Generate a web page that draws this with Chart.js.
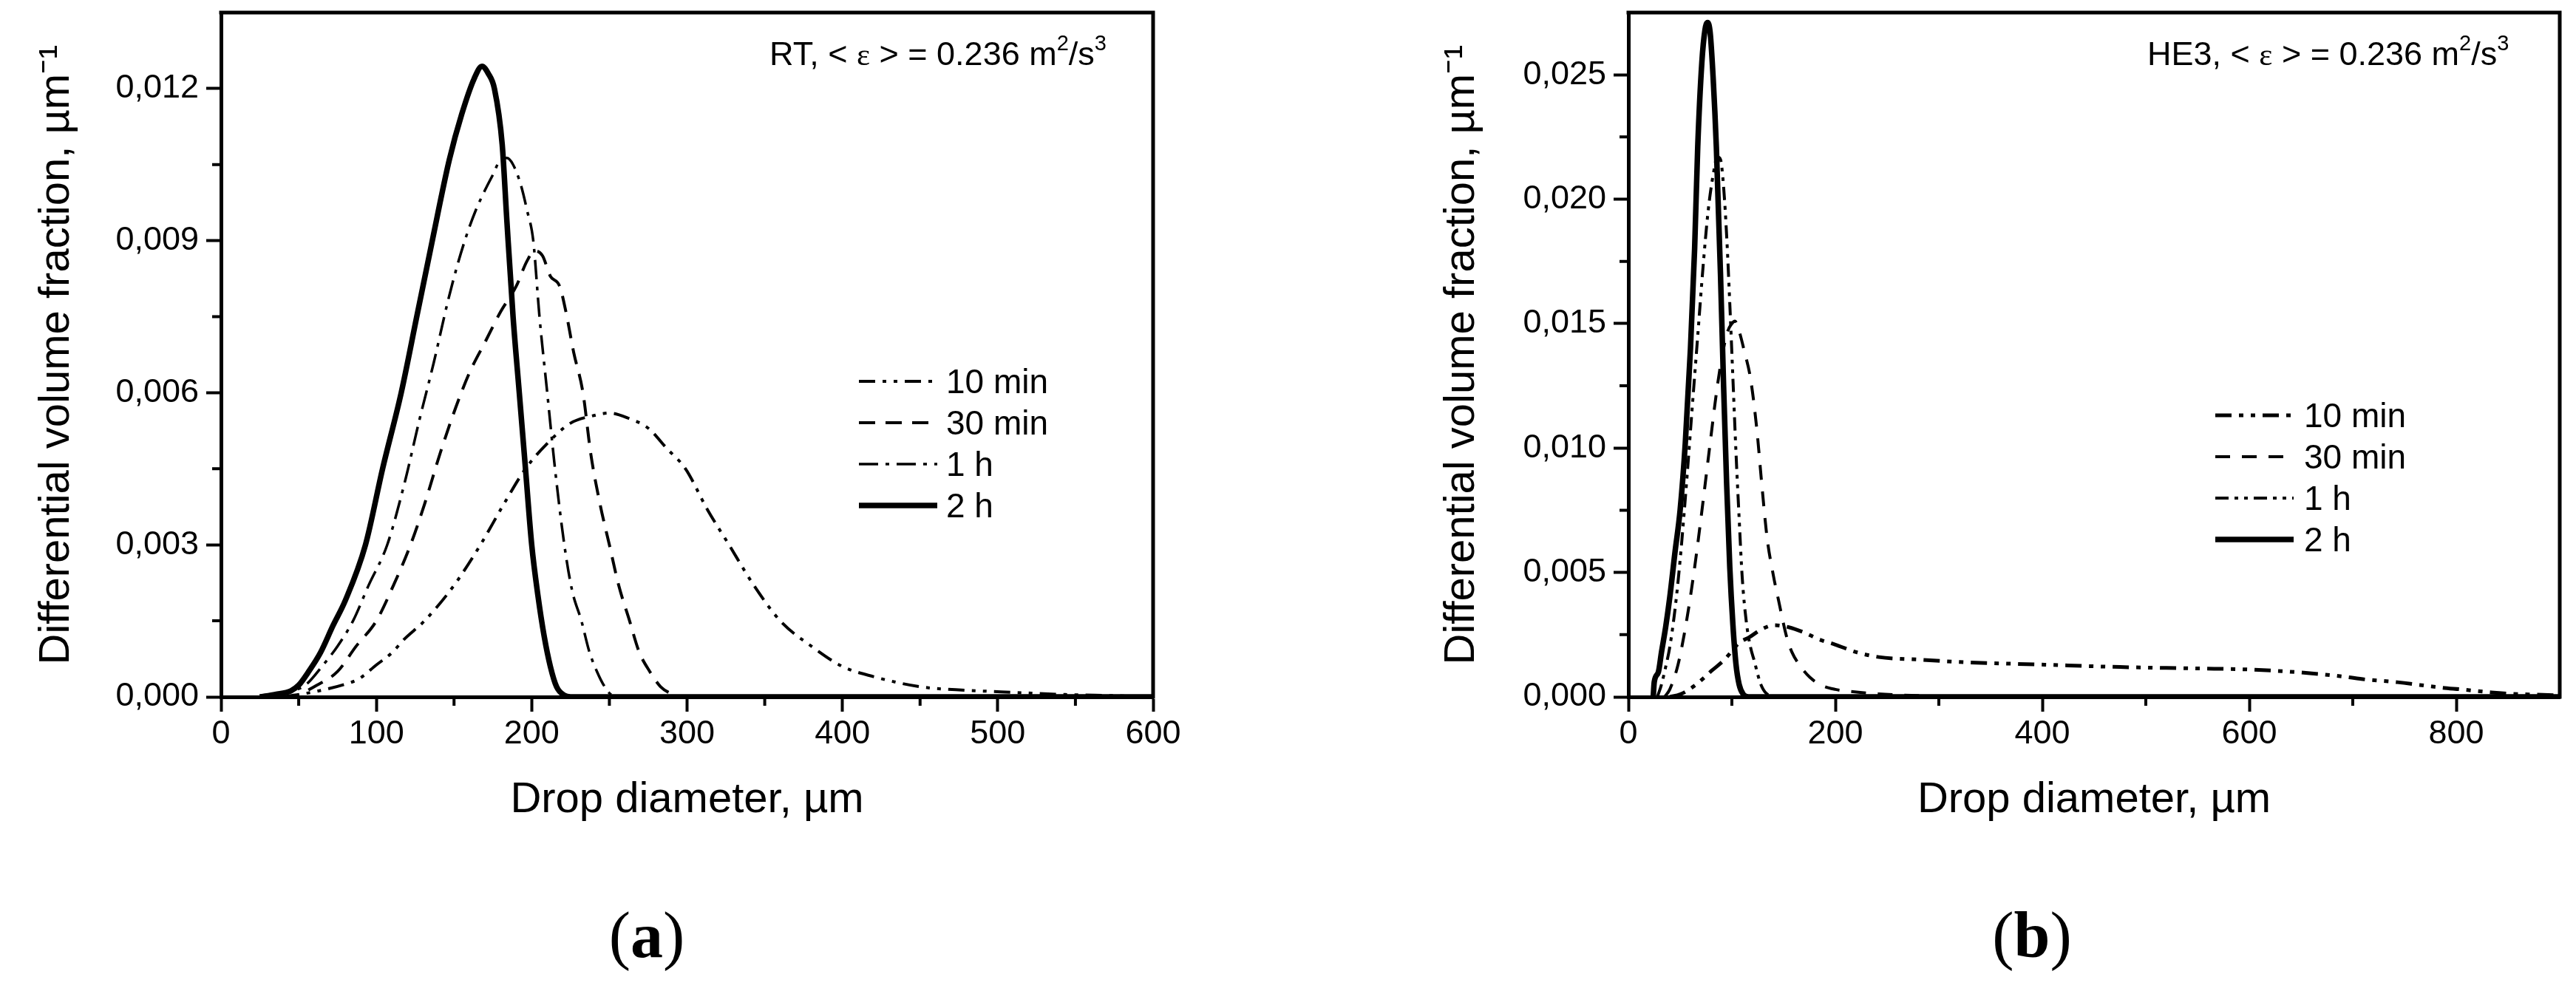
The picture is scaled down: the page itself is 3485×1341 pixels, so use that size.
<!DOCTYPE html>
<html>
<head>
<meta charset="utf-8">
<script src="https://cdn.jsdelivr.net/npm/chart.js@4.4.1/dist/chart.umd.min.js"></script>
<style>
  html, body { margin: 0; padding: 0; background: #fff; }
  #wrap { position: relative; width: 3485px; height: 1341px; }
  canvas { position: absolute; top: 0; }
  #chartA { left: 0; }
  #chartB { left: 1742px; }
</style>
</head>
<body>
<div id="wrap">
  <canvas id="chartA" width="1742" height="1341"></canvas>
  <canvas id="chartB" width="1743" height="1341"></canvas>
</div>
<script>
// series labels
const seriesLabels = ['10 min', '30 min', '1 h', '2 h'];

// panel (a): RT
const a10x = [40, 60, 81, 89, 100, 110, 118, 131, 150, 167, 182, 196, 210, 225, 240, 250, 262, 275, 287, 299, 313, 327, 343, 360, 380, 400, 420, 450, 480, 502, 540, 580, 600];
const a10y = [0, 0.0001, 0.00026, 0.00036, 0.00063, 0.00087, 0.00114, 0.0015, 0.0022, 0.003, 0.0038, 0.0045, 0.005, 0.0054, 0.00555, 0.0056, 0.0055, 0.0053, 0.0049, 0.0045, 0.0037, 0.003, 0.0022, 0.0015, 0.001, 0.0006, 0.0004, 0.0002, 0.00013, 0.0001, 0.00005, 0.00002, 0];
const a30x = [40, 49, 60, 75, 87, 100, 111, 122, 131, 141, 151, 160, 170, 180, 190, 197, 202, 207, 212, 218, 222, 227, 233, 238, 244, 250, 256, 263, 269, 276, 283, 290, 296, 600];
const a30y = [0, 0.00003, 0.0002, 0.0005, 0.001, 0.0015, 0.0022, 0.003, 0.0038, 0.0048, 0.0057, 0.0064, 0.007, 0.0076, 0.0081, 0.0086, 0.0088, 0.0087, 0.0083, 0.0081, 0.0076, 0.0068, 0.006, 0.0048, 0.0038, 0.003, 0.0022, 0.0015, 0.0009, 0.0005, 0.0002, 0.00006, 0, 0];
const a1hx = [33, 45, 55, 65, 75, 85, 95, 107, 118, 128, 137, 146, 152, 158, 164, 170, 175, 180, 184, 188, 193, 197, 201, 205, 210, 215, 221, 226, 232, 237, 242, 247, 252, 260, 600];
const a1hy = [0, 0.0001, 0.00025, 0.0006, 0.001, 0.0015, 0.0022, 0.003, 0.0042, 0.0055, 0.0066, 0.0078, 0.0085, 0.0091, 0.0096, 0.01, 0.0103, 0.0106, 0.01063, 0.0105, 0.0101, 0.0096, 0.009, 0.0075, 0.006, 0.0045, 0.003, 0.0021, 0.0015, 0.0009, 0.0005, 0.0002, 0.00003, 0, 0];
const a2hx = [25, 35, 45, 50, 56, 64, 72, 80, 93, 104, 116, 126, 136, 147, 155, 163, 168, 172, 176, 181, 184, 188, 192, 196, 200, 204, 208, 212, 216, 221, 225, 600];
const a2hy = [0, 0.00005, 0.00012, 0.00023, 0.00048, 0.00087, 0.0014, 0.0019, 0.003, 0.0045, 0.006, 0.0075, 0.009, 0.0106, 0.0115, 0.0122, 0.01244, 0.0123, 0.012, 0.0109, 0.0094, 0.0075, 0.006, 0.0045, 0.003, 0.002, 0.0012, 0.0006, 0.0002, 0.00003, 0, 0];

// panel (b): HE3
const b10x = [40, 50, 64, 81, 93, 107, 117, 128, 141, 155, 169, 185, 200, 220, 242, 280, 320, 398, 475, 553, 600, 650, 690, 712, 743, 786, 805, 834, 855, 879, 900];
const b10y = [0, 0.0001, 0.00045, 0.00107, 0.0015, 0.00217, 0.0024, 0.0027, 0.00288, 0.0028, 0.0026, 0.0023, 0.0021, 0.0018, 0.0016, 0.0015, 0.0014, 0.0013, 0.0012, 0.00114, 0.0011, 0.00098, 0.00082, 0.0007, 0.00059, 0.00037, 0.0003, 0.00018, 0.00012, 0.00009, 0.00006];
const b30x = [35, 40, 48, 56, 64, 72, 79, 86, 91, 96, 100, 103, 107, 112, 118, 124, 129, 134, 140, 145, 153, 158, 165, 175, 186, 200, 210, 242, 280, 320, 900];
const b30y = [0, 0.0003, 0.0013, 0.003, 0.0052, 0.0078, 0.0102, 0.0125, 0.0138, 0.0147, 0.015, 0.0151, 0.0147, 0.0139, 0.0128, 0.0108, 0.0085, 0.0064, 0.0049, 0.0039, 0.0024, 0.0018, 0.0013, 0.0008, 0.00048, 0.0003, 0.00024, 0.00012, 0.00005, 0, 0];
const b1hx = [28, 32, 36, 40, 45, 50, 56, 62, 67, 72, 77, 82, 86, 89, 92, 95, 98, 101, 104, 107, 110, 114, 118, 122, 125, 128, 133, 140, 150, 900];
const b1hy = [0, 0.0005, 0.0012, 0.002, 0.0035, 0.0055, 0.0085, 0.0118, 0.0145, 0.0172, 0.0195, 0.021, 0.0217, 0.0216, 0.0205, 0.0185, 0.0158, 0.0128, 0.0098, 0.0072, 0.0048, 0.003, 0.002, 0.0014, 0.0009, 0.0005, 0.00015, 0.00003, 0, 0];
const b2hx = [24, 25, 29, 32, 36, 40, 45, 50, 55, 60, 64, 67, 71, 74, 76.5, 79, 82, 85, 89, 92, 95, 98, 101, 104, 107, 111, 116, 900];
const b2hy = [0, 0.0006, 0.001, 0.0018, 0.0028, 0.004, 0.0058, 0.0075, 0.0102, 0.014, 0.018, 0.0221, 0.0255, 0.0268, 0.0271, 0.0267, 0.0248, 0.0221, 0.017, 0.0125, 0.0085, 0.0052, 0.0029, 0.0013, 0.0005, 0.0001, 0, 0];

const SANS = "'Liberation Sans', Arial, sans-serif";
const SERIF = "'Liberation Serif', 'Times New Roman', serif";

function pts(xs, ys) {
  return xs.map((x, i) => ({ x: x, y: ys[i] }));
}

function line(label, xs, ys, dash, width) {
  return {
    label: label,
    data: pts(xs, ys),
    borderColor: '#000',
    borderWidth: width,
    borderDash: dash,
    pointRadius: 0,
    fill: false,
    cubicInterpolationMode: 'monotone',
  };
}

// frame, minor ticks, legend, note and panel letter
const decor = {
  id: 'decor',
  afterDraw(chart, args, o) {
    const { ctx, chartArea: a, scales: { x, y } } = chart;
    ctx.save();
    ctx.strokeStyle = '#000';
    ctx.fillStyle = '#000';
    ctx.lineCap = 'square';
    ctx.lineWidth = 5;
    ctx.beginPath();
    ctx.moveTo(a.left, a.top);
    ctx.lineTo(a.right, a.top);
    ctx.lineTo(a.right, a.bottom);
    ctx.stroke();

    ctx.lineCap = 'butt';
    ctx.lineWidth = 4;
    ctx.beginPath();
    for (let i = 1; i * o.minorX < x.max; i += 2) {
      const px = x.getPixelForValue(i * o.minorX);
      ctx.moveTo(px, a.bottom);
      ctx.lineTo(px, a.bottom + 12);
    }
    for (let i = 1; i * o.minorY < y.max; i += 2) {
      const py = y.getPixelForValue(i * o.minorY);
      ctx.moveTo(a.left, py);
      ctx.lineTo(a.left - 12, py);
    }
    ctx.stroke();

    // legend
    const lg = o.legend;
    ctx.font = '46px ' + SANS;
    ctx.textBaseline = 'alphabetic';
    chart.data.datasets.forEach((ds, i) => {
      const ry = lg.y + i * lg.dy;
      ctx.setLineDash(ds.borderDash || []);
      ctx.lineWidth = ds.borderWidth;
      ctx.beginPath();
      ctx.moveTo(lg.x0, ry);
      ctx.lineTo(lg.x1, ry);
      ctx.stroke();
      ctx.fillText(ds.label, lg.tx, ry + 16);
    });
    ctx.setLineDash([]);

    // note
    const n = o.note;
    const parts = [
      { t: n.prefix + ', < ', f: '45px ' + SANS, dy: 0 },
      { t: '\u03b5', f: '43px ' + SERIF, dy: 0 },
      { t: ' > = 0.236 m', f: '45px ' + SANS, dy: 0 },
      { t: '2', f: '29px ' + SANS, dy: -20 },
      { t: '/s', f: '45px ' + SANS, dy: 0 },
      { t: '3', f: '29px ' + SANS, dy: -20 },
    ];
    let nx = n.x;
    parts.forEach(p => {
      ctx.font = p.f;
      ctx.fillText(p.t, nx, n.y + p.dy);
      nx += ctx.measureText(p.t).width;
    });

    // panel letter
    const pl = o.letter;
    ctx.font = '88px ' + SERIF;
    const wp = ctx.measureText('(').width;
    ctx.font = 'bold 88px ' + SERIF;
    const wl = ctx.measureText(pl.t).width;
    const lx = pl.x - (2 * wp + wl) / 2;
    ctx.font = '88px ' + SERIF;
    ctx.fillText('(', lx, pl.y);
    ctx.font = 'bold 88px ' + SERIF;
    ctx.fillText(pl.t, lx + wp, pl.y);
    ctx.font = '88px ' + SERIF;
    ctx.fillText(')', lx + wp + wl, pl.y);
    ctx.restore();
  },
};

function makeChart(id, cfg) {
  const tickFont = { family: SANS, size: 45 };
  const titleFont = { family: SANS, size: 58 };
  return new Chart(document.getElementById(id), {
    type: 'line',
    data: { datasets: cfg.datasets },
    plugins: [decor],
    options: {
      responsive: false,
      animation: false,
      devicePixelRatio: 1,
      layout: { padding: { left: cfg.padLeft, top: 17, right: cfg.padRight, bottom: 223 } },
      plugins: {
        legend: { display: false },
        tooltip: { enabled: false },
        decor: cfg.decor,
      },
      scales: {
        x: {
          type: 'linear',
          min: 0,
          max: cfg.xMax,
          ticks: { stepSize: cfg.xStep, includeBounds: false, font: tickFont, color: '#000', padding: 4, maxRotation: 0 },
          grid: { drawOnChartArea: false, drawTicks: true, tickLength: 20, tickWidth: 4, tickColor: '#000' },
          border: { color: '#000', width: 5 },
          title: { display: true, text: 'Drop diameter, \u00b5m', font: titleFont, color: '#000', padding: { top: 0, bottom: 0 } },
          afterFit: s => { s.height = 175; s.paddingLeft = 0; s.paddingRight = 0; },
        },
        y: {
          type: 'linear',
          min: 0,
          max: cfg.yMax,
          ticks: {
            stepSize: cfg.yStep,
            includeBounds: false,
            font: tickFont,
            color: '#000',
            padding: 10,
            callback: v => v.toFixed(3).replace('.', ','),
          },
          grid: { drawOnChartArea: false, drawTicks: true, tickLength: 20, tickWidth: 4, tickColor: '#000' },
          border: { color: '#000', width: 5 },
          title: { display: true, text: 'Differential volume fraction, \u00b5m\u207b\u00b9', font: titleFont, color: '#000', padding: { top: 42, bottom: 0 } },
          afterFit: s => { s.width = cfg.yWidth; s.paddingTop = 0; s.paddingBottom = 0; },
        },
      },
    },
  });
}

makeChart('chartA', {
  datasets: [
    line(seriesLabels[0], a10x, a10y, [22, 10, 5, 10, 5, 10], 4),
    line(seriesLabels[1], a30x, a30y, [22, 14], 4),
    line(seriesLabels[2], a1hx, a1hy, [26, 10, 5, 10], 3.5),
    line(seriesLabels[3], a2hx, a2hy, [], 7.5),
  ],
  padLeft: 0, padRight: 182, yWidth: 299,
  xMax: 600, xStep: 100, yMax: 0.0135, yStep: 0.003,
  decor: {
    minorX: 50, minorY: 0.0015,
    legend: { x0: 1162, x1: 1268, tx: 1280, y: 516, dy: 56 },
    note: { prefix: 'RT', x: 1041, y: 88 },
    letter: { t: 'a', x: 875, y: 1295 },
  },
});

makeChart('chartB', {
  datasets: [
    line(seriesLabels[0], b10x, b10y, [22, 10, 6, 10, 6, 10], 5),
    line(seriesLabels[1], b30x, b30y, [20, 16], 4),
    line(seriesLabels[2], b1hx, b1hy, [18, 8, 5, 8, 5, 8], 4),
    line(seriesLabels[3], b2hx, b2hy, [], 7.5),
  ],
  padLeft: 159, padRight: 22, yWidth: 302,
  xMax: 900, xStep: 200, yMax: 0.0275, yStep: 0.005,
  decor: {
    minorX: 100, minorY: 0.0025,
    legend: { x0: 1255, x1: 1361, tx: 1375, y: 562, dy: 56 },
    note: { prefix: 'HE3', x: 1163, y: 88 },
    letter: { t: 'b', x: 1007, y: 1295 },
  },
});
</script>
</body>
</html>
